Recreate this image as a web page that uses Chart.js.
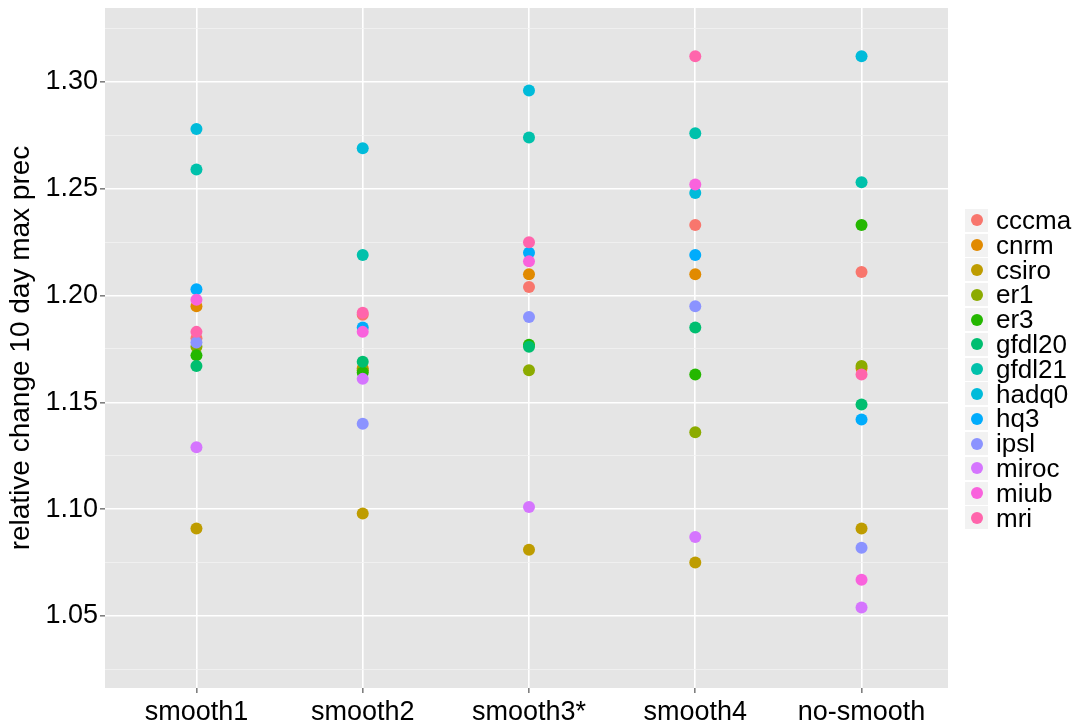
<!DOCTYPE html>
<html>
<head>
<meta charset="utf-8">
<script src="https://cdn.jsdelivr.net/npm/chart.js@4"></script>
<style>
  body { margin: 0; background: #fff; }
  #wrap { position: relative; width: 1073px; height: 726px; }
  #legend { position: absolute; left: 965px; top: 208px; font-family: "Liberation Sans", Arial, sans-serif; }
  .row { display: flex; align-items: center; height: 24.8px; }
  .key { position: relative; width: 23px; height: 23px; background: #f2f2f2; }
  .dot { position: absolute; left: 5.5px; top: 5.5px; width: 12px; height: 12px; border-radius: 50%; }
  .lab { margin-left: 8px; font-size: 26px; line-height: 24.8px; color: #000; }
</style>
</head>
<body>
<div id="wrap">
  <canvas id="chart"></canvas>
  <div id="legend"></div>
</div>
<script>
// categories on the x axis
const categories = ['smooth1', 'smooth2', 'smooth3*', 'smooth4', 'no-smooth'];

// models (legend order) and ggplot hue colours
const models = ['cccma', 'cnrm', 'csiro', 'er1', 'er3', 'gfdl20', 'gfdl21', 'hadq0', 'hq3', 'ipsl', 'miroc', 'miub', 'mri'];
const colors = ['#F8766D', '#E18A00', '#BE9C00', '#8CAB00', '#24B700', '#00BE70', '#00C1AB', '#00BBDA', '#00ACFC', '#8B93FF', '#D575FE', '#F962DD', '#FF65AC'];

// values per model, one per category
const cccma  = [1.180, 1.191, 1.204, 1.233, 1.211];
const cnrm   = [1.195, 1.166, 1.210, 1.210, 1.166];
const csiro  = [1.091, 1.098, 1.081, 1.075, 1.091];
const er1    = [1.176, 1.165, 1.165, 1.136, 1.167];
const er3    = [1.172, 1.164, 1.177, 1.163, 1.233];
const gfdl20 = [1.167, 1.169, 1.176, 1.185, 1.149];
const gfdl21 = [1.259, 1.219, 1.274, 1.276, 1.253];
const hadq0  = [1.278, 1.269, 1.296, 1.248, 1.312];
const hq3    = [1.203, 1.185, 1.220, 1.219, 1.142];
const ipsl   = [1.178, 1.140, 1.190, 1.195, 1.082];
const miroc  = [1.129, 1.161, 1.101, 1.087, 1.054];
const miub   = [1.198, 1.183, 1.216, 1.252, 1.067];
const mri    = [1.183, 1.192, 1.225, 1.312, 1.163];
const series = [cccma, cnrm, csiro, er1, er3, gfdl20, gfdl21, hadq0, hq3, ipsl, miroc, miub, mri];

// y axis
const yMajor = [1.05, 1.10, 1.15, 1.20, 1.25, 1.30];
const yMinor = [1.025, 1.075, 1.125, 1.175, 1.225, 1.275, 1.325];
const Y_MIN = 1.0163, Y_MAX = 1.3346;

const FONT = '"Liberation Sans", Arial, sans-serif';
const isMajor = v => yMajor.some(m => Math.abs(m - v) < 1e-6);

// grey panel behind the plot
const panelBg = {
    id: 'panelBg',
    beforeDraw(chart) {
        const a = chart.chartArea, c = chart.ctx;
        c.save();
        c.fillStyle = '#E5E5E5';
        c.fillRect(a.left, a.top, a.right - a.left, a.bottom - a.top);
        c.restore();
    }
};

// pin the axis sizes so the panel sits where the reference has it
function noPad(s) {
    s.paddingTop = 0; s.paddingBottom = 0; s.paddingLeft = 0; s.paddingRight = 0;
}

const datasets = models.map((m, i) => ({
    label: m,
    data: series[i].map((v, j) => ({ x: j, y: v })),
    backgroundColor: colors[i],
    borderColor: colors[i],
    pointRadius: 6,
    pointBorderWidth: 0,
    showLine: false,
    order: models.length - i   // later models drawn on top, like ggplot
}));

new Chart(document.getElementById('chart').getContext('2d'), {
    type: 'scatter',
    data: { datasets: datasets },
    options: {
        responsive: true,
        maintainAspectRatio: false,
        animation: false,
        layout: { padding: { top: 8, right: 125, left: 0, bottom: 0 } },
        plugins: { legend: { display: false }, tooltip: { enabled: false } },
        scales: {
            x: {
                type: 'linear',
                min: -0.55, max: 4.52,
                afterBuildTicks: s => { s.ticks = categories.map((c, i) => ({ value: i })); },
                afterFit: s => { s.height = 38; noPad(s); },
                border: { display: false },
                grid: { color: '#FFFFFF', lineWidth: 1.6, tickColor: '#7F7F7F', tickLength: 5 },
                ticks: {
                    autoSkip: false, maxRotation: 0, padding: 3, color: '#000',
                    font: { family: FONT, size: 27 },
                    callback: v => categories[Math.round(v)]
                }
            },
            y: {
                min: Y_MIN, max: Y_MAX,
                afterBuildTicks: s => {
                    s.ticks = yMajor.concat(yMinor).sort((a, b) => a - b).map(v => ({ value: v }));
                },
                afterFit: s => { s.width = 105; noPad(s); },
                border: { display: false },
                grid: {
                    color: c => isMajor(c.tick.value) ? '#FFFFFF' : '#F2F2F2',
                    lineWidth: c => isMajor(c.tick.value) ? 1.6 : 0.8,
                    tickColor: c => isMajor(c.tick.value) ? '#7F7F7F' : 'rgba(0,0,0,0)',
                    tickLength: 5
                },
                ticks: {
                    padding: 2, color: '#000',
                    font: { family: FONT, size: 27 },
                    callback: v => isMajor(v) ? v.toFixed(2) : ''
                },
                title: {
                    display: true, text: 'relative change 10 day max prec', color: '#000',
                    font: { family: FONT, size: 28 }, padding: { top: 4, bottom: 0 }
                }
            }
        }
    },
    plugins: [panelBg]
});

// legend
const leg = document.getElementById('legend');
models.forEach((m, i) => {
    const row = document.createElement('div');
    row.className = 'row';
    row.innerHTML = '<div class="key"><div class="dot" style="background:' + colors[i] + '"></div></div><span class="lab">' + m + '</span>';
    leg.appendChild(row);
});
</script>
</body>
</html>
